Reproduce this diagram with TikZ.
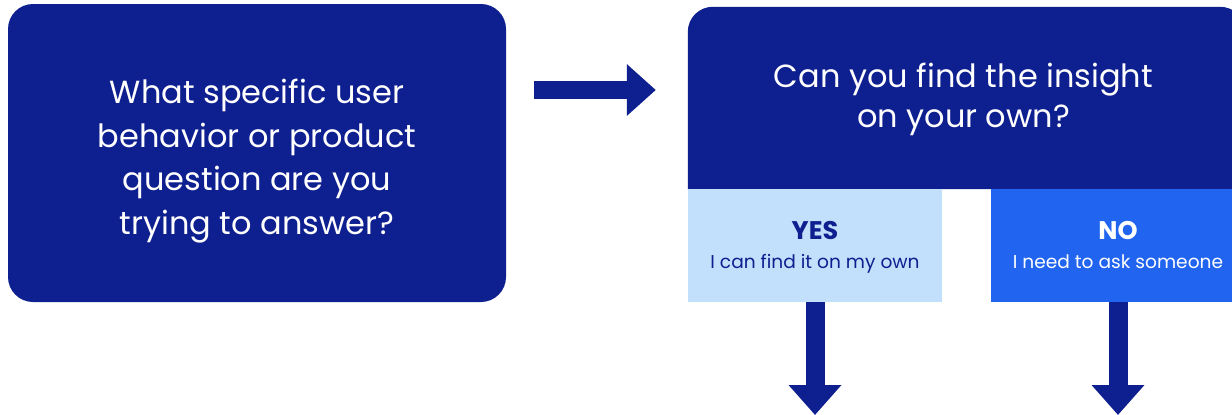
\documentclass[tikz,border=0pt]{standalone}
\usepackage{fontspec}
\setmainfont{Poppins}
\usetikzlibrary{arrows.meta,calc}
\definecolor{navy}{RGB}{14,31,143}
\definecolor{lightb}{RGB}{194,224,251}
\definecolor{brightb}{RGB}{32,100,240}
\begin{document}
\begin{tikzpicture}[x=1pt,y=-1pt,
  bigbox/.style={fill=navy, rounded corners=25pt, minimum width=498pt, minimum height=298pt,
    inner sep=0pt},
  boxtext/.style={text=white, align=center, inner sep=0pt, font=\fontsize{32}{43.7}\selectfont},
  headtext/.style={text=white, align=center, inner sep=0pt, font=\fontsize{32}{40}\selectfont},
  answerbox/.style={minimum width=254pt, minimum height=113pt, inner sep=0pt},
  answertext/.style={align=center, inner sep=0pt, text depth=5pt, font=\fontsize{18.6}{32}\selectfont},
  fatarrow/.style={draw=navy, line width=18pt, -{Triangle[width=50pt,length=29pt]}},
  downarrow/.style={draw=navy, line width=19pt, -{Triangle[width=51pt,length=30pt]}},
]
\path[use as bounding box, clip] (0,0) rectangle (1232,415);

\node[bigbox] (q1box) at (257,153) {};
\node[boxtext] (q1) at ($(q1box.center)+(0,8)$)
  {What specific user\\behavior or product\\question are you\\trying to answer?};

\node[minimum width=557pt, minimum height=182pt, inner sep=0pt] (topbox) at (966.5,98) {};
\fill[navy, rounded corners=25pt] (topbox.south west) -- (topbox.north west)
  -- (topbox.north east) -- (topbox.south east);
\node[headtext] (q2) at ($(topbox.center)+(-3,1)$) {Can you find the insight\\on your own?};

\node[answerbox, fill=lightb] (yes) at (815,245.5) {};
\node[answertext, text=navy] (yestext) at ($(yes.center)+(0,1.5)$)
  {{\fontsize{25.5}{32}\selectfont\bfseries YES}\\[-3pt]I can find it on my own};
\node[answerbox, fill=brightb] (no) at (1118,245.5) {};
\node[answertext, text=white] (notext) at ($(no.center)+(0,1.5)$)
  {{\fontsize{25.5}{32}\selectfont\bfseries NO}\\[-3pt]I need to ask someone};

\draw[fatarrow] (q1box.east |- 0,90) ++(28,0) -- ($(topbox.west |- 0,90)+(-32,0)$);

\coordinate (yend) at (815,415);
\coordinate (nend) at (1118,415);
\draw[downarrow] (yes.south) -- (yend);
\draw[downarrow] (no.south) -- (nend);
\end{tikzpicture}
\end{document}
